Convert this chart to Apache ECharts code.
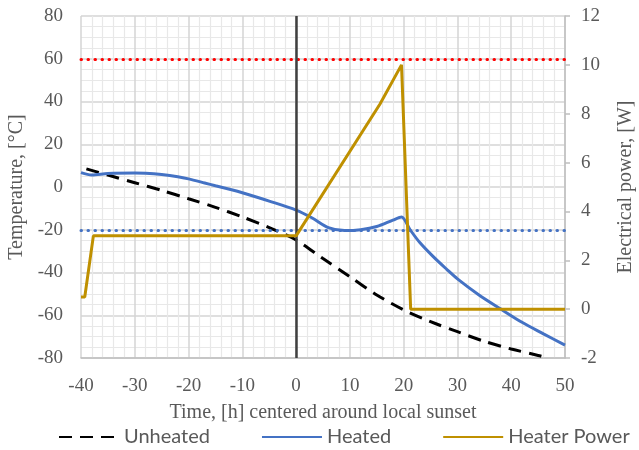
<!DOCTYPE html>
<html>
<head>
<meta charset="utf-8">
<script src="https://cdn.jsdelivr.net/npm/echarts@6/dist/echarts.min.js"></script>
<style>
  html, body { margin: 0; padding: 0; background: #fff; }
  #main { width: 639px; height: 450px; }
</style>
</head>
<body>
<div id="main"></div>
<script>
// values
var unheatedTime = [-39, -35, -30, -25, -20, -15, -10, -5, 0, 5, 10, 15, 20, 25, 30, 35, 40, 45, 46.7];
var unheatedTemp = [8.5, 5.6, 2, -1.6, -5.5, -9.5, -14, -19, -24.8, -33.5, -42, -50.5, -57.5, -63, -67.7, -72.2, -75.8, -78.8, -80];

var heatedTime = [-40, -38, -35, -30, -28, -25, -22, -20, -17, -15, -12, -10, -5, 0, 3, 6, 9, 12, 15, 18, 19.6, 21.2, 23, 25.5, 28, 30, 34, 38, 42, 46, 50];
var heatedTemp = [6.7, 5.6, 6.3, 6.5, 6.4, 5.8, 4.8, 3.8, 1.9, 0.6, -1.3, -2.7, -6.6, -10.8, -14.5, -19, -20.4, -20, -18.5, -15.5, -14, -20, -26, -32.6, -38.5, -43, -50.5, -57, -63.3, -68.7, -74];

var powerTime = [-40, -39.3, -37.7, 0, 15.6, 19.6, 21.3, 50];
var powerWatt = [0.5, 0.5, 3, 3, 8.4, 10, 0, 0];

var maxTempLine = 60;
var minTempLine = -20;
var sunsetTime = 0;

function pairs(xs, ys) {
    return xs.map(function (x, i) { return [x, ys[i]]; });
}

var myChart = echarts.init(document.getElementById('main'));

var serif = 'Liberation Serif';
var gray = '#595959';

var option = {
    animation: false,
    backgroundColor: '#fff',
    grid: { left: 81, right: 74, top: 16, bottom: 92, containLabel: false, outerBoundsMode: 'none' },
    legend: {
        bottom: -2,
        left: 53,
        itemWidth: 60,
        itemHeight: 12,
        itemGap: 51,
        itemStyle: { color: 'rgba(0,0,0,0)', borderWidth: 0, opacity: 0 },
        textStyle: { fontFamily: 'Lato', fontSize: 20, color: gray },
        data: ['Unheated', 'Heated', 'Heater Power']
    },
    xAxis: {
        type: 'value',
        min: -40, max: 50, interval: 10,
        name: 'Time, [h] centered around local sunset',
        nameLocation: 'middle',
        nameGap: 45,
        nameTextStyle: { fontFamily: serif, fontSize: 20, color: gray },
        axisLine: { show: true, onZero: false, lineStyle: { color: '#BFBFBF', width: 1.5 } },
        axisTick: { show: false },
        axisLabel: { fontFamily: serif, fontSize: 19, color: gray, margin: 19 },
        splitLine: { lineStyle: { color: '#D4D4D4', width: 1.5 } },
        minorTick: { show: false, splitNumber: 5 },
        minorSplitLine: { show: true, lineStyle: { color: '#E8E8E8', width: 1.2 } }
    },
    yAxis: [
        {
            type: 'value',
            min: -80, max: 80, interval: 20,
            name: 'Temperature, [°C]',
            nameLocation: 'middle',
            nameGap: 47,
            nameTextStyle: { fontFamily: serif, fontSize: 20, color: gray },
            axisLine: { show: true, lineStyle: { color: '#D4D4D4', width: 1.5 } },
            axisTick: { show: false },
            axisLabel: { fontFamily: serif, fontSize: 19, color: gray, margin: 18 },
            splitLine: { lineStyle: { color: '#D4D4D4', width: 1.5 } },
            minorTick: { show: false, splitNumber: 4 },
            minorSplitLine: { show: true, lineStyle: { color: '#E8E8E8', width: 1.2 } }
        },
        {
            type: 'value',
            min: -2, max: 12, interval: 2,
            name: 'Electrical power, [W]',
            nameLocation: 'middle',
            nameGap: 51,
            nameRotate: 90,
            nameTextStyle: { fontFamily: serif, fontSize: 20, color: gray },
            axisLine: { show: true, lineStyle: { color: '#BFBFBF', width: 1.5 } },
            axisTick: { show: true, length: 5, lineStyle: { color: '#BFBFBF', width: 1.5 } },
            axisLabel: { fontFamily: serif, fontSize: 19, color: gray, margin: 16 },
            splitLine: { show: false }
        }
    ],
    series: [
        {
            name: 'Unheated',
            type: 'line',
            data: pairs(unheatedTime, unheatedTemp),
            showSymbol: false,
            symbol: 'none',
            smooth: 0.3,
            color: '#000',
            lineStyle: { color: '#000', width: 3, type: [13, 8] },
            z: 3,
            markLine: {
                silent: true,
                symbol: 'none',
                label: { show: false },
                data: [
                    { yAxis: maxTempLine, lineStyle: { color: '#FF0000', width: 3, type: [0.5, 6.5], cap: 'round' } },
                    { yAxis: minTempLine, lineStyle: { color: '#4472C4', width: 3, type: [0.5, 6.5], cap: 'round' } },
                    { xAxis: sunsetTime, lineStyle: { color: '#404040', width: 2.5, type: 'solid' } }
                ]
            }
        },
        {
            name: 'Heated',
            type: 'line',
            data: pairs(heatedTime, heatedTemp),
            showSymbol: false,
            symbol: 'none',
            smooth: 0.3,
            color: '#4472C4',
            lineStyle: { color: '#4472C4', width: 3 },
            z: 4
        },
        {
            name: 'Heater Power',
            type: 'line',
            yAxisIndex: 1,
            data: pairs(powerTime, powerWatt),
            showSymbol: false,
            symbol: 'none',
            color: '#BF9000',
            lineStyle: { color: '#BF9000', width: 3 },
            z: 5
        }
    ]
};

myChart.setOption(option);
</script>
</body>
</html>
